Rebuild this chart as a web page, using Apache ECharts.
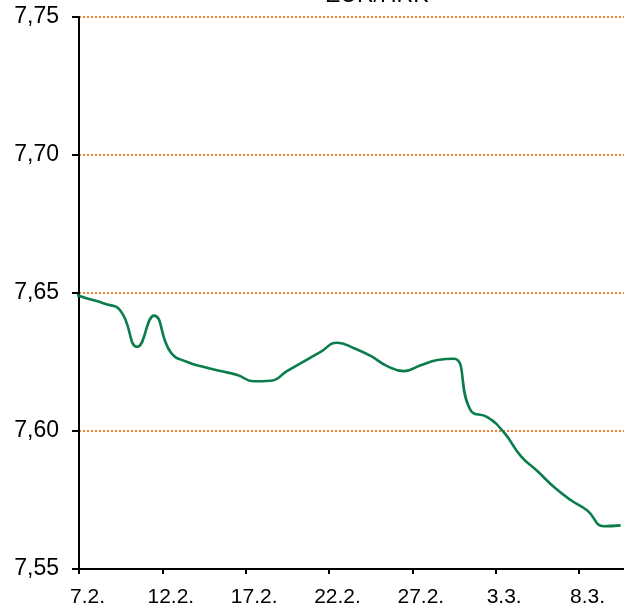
<!DOCTYPE html>
<html>
<head>
<meta charset="utf-8">
<script src="https://cdn.jsdelivr.net/npm/echarts@6/dist/echarts.min.js"></script>
<style>
  html, body { margin: 0; padding: 0; background: #fff; }
  #chart { width: 624px; height: 608px; }
</style>
</head>
<body>
<div id="chart"></div>
<script>
// EUR/HRK tečaj, dnevno (6.2. je izvan vidljivog dijela)
var dates = ['6.2.', '7.2.', '8.2.', '9.2.', '10.2.', '11.2.', '12.2.', '13.2.', '14.2.', '15.2.',
  '16.2.', '17.2.', '18.2.', '19.2.', '20.2.', '21.2.', '22.2.', '23.2.', '24.2.', '25.2.',
  '26.2.', '27.2.', '28.2.', '29.2.', '1.3.', '2.3.', '3.3.', '4.3.', '5.3.', '6.3.',
  '7.3.', '8.3.', '9.3.', '10.3.'];
var rates = [7.650, 7.648, 7.6462, 7.6435, 7.6305, 7.6418, 7.6285, 7.6250, 7.6232, 7.6217,
  7.6203, 7.6180, 7.6182, 7.6218, 7.6252, 7.6287, 7.6320, 7.6300, 7.6272, 7.6235,
  7.6217, 7.6238, 7.6257, 7.6262, 7.6075, 7.6050, 7.5995, 7.5910, 7.5855, 7.5797,
  7.5750, 7.5712, 7.5655, 7.5658];
var yTicks = [7.55, 7.60, 7.65, 7.70, 7.75];

var chart = echarts.init(document.getElementById('chart'));

// x: dan i sjedi u sredini svog intervala (7.2. -> 0.5)
var points = [];
for (var i = 0; i < rates.length; i++) {
  points.push([i - 0.5, rates[i]]);
}

var option = {
  animation: false,
  title: {
    text: 'EUR/HRK',
    left: 325,
    top: -16,
    padding: 0,
    textStyle: { fontFamily: 'Liberation Sans', fontSize: 23, fontWeight: 'normal', color: '#000' }
  },
  // plot je odrezan desno, kao na originalu
  grid: { left: 79, top: 17, bottom: 39, width: 583.3, outerBoundsMode: 'none', containLabel: false },
  xAxis: {
    type: 'value',
    min: 0,
    max: 35,
    interval: 5,
    axisLine: { show: true, onZero: false, lineStyle: { color: '#000', width: 2 } },
    axisTick: { show: true, length: 5, lineStyle: { color: '#000', width: 2 } },
    splitLine: { show: false },
    axisLabel: {
      margin: 18,
      padding: [0, 0, 0, 17],
      fontFamily: 'Liberation Sans',
      fontSize: 21,
      color: '#000',
      formatter: function (v) { return dates[Math.round(v) + 1] || ''; }
    }
  },
  yAxis: {
    type: 'value',
    min: yTicks[0],
    max: yTicks[yTicks.length - 1],
    interval: 0.05,
    axisLine: { show: true, lineStyle: { color: '#000', width: 2 } },
    axisTick: { show: true, length: 7, lineStyle: { color: '#000', width: 2 } },
    splitLine: { show: true, lineStyle: { color: '#F07F2E', width: 2, type: [2, 2] } },
    axisLabel: {
      margin: 20,
      fontFamily: 'Liberation Sans',
      fontSize: 23,
      color: '#000',
      formatter: function (v) { return v.toFixed(2).replace('.', ','); }
    }
  },
  series: [{
    type: 'line',
    data: points,
    smooth: 0.5,
    symbol: 'none',
    clip: true,
    lineStyle: { color: '#0A7D4B', width: 2.6 }
  }]
};
chart.setOption(option);
</script>
</body>
</html>
